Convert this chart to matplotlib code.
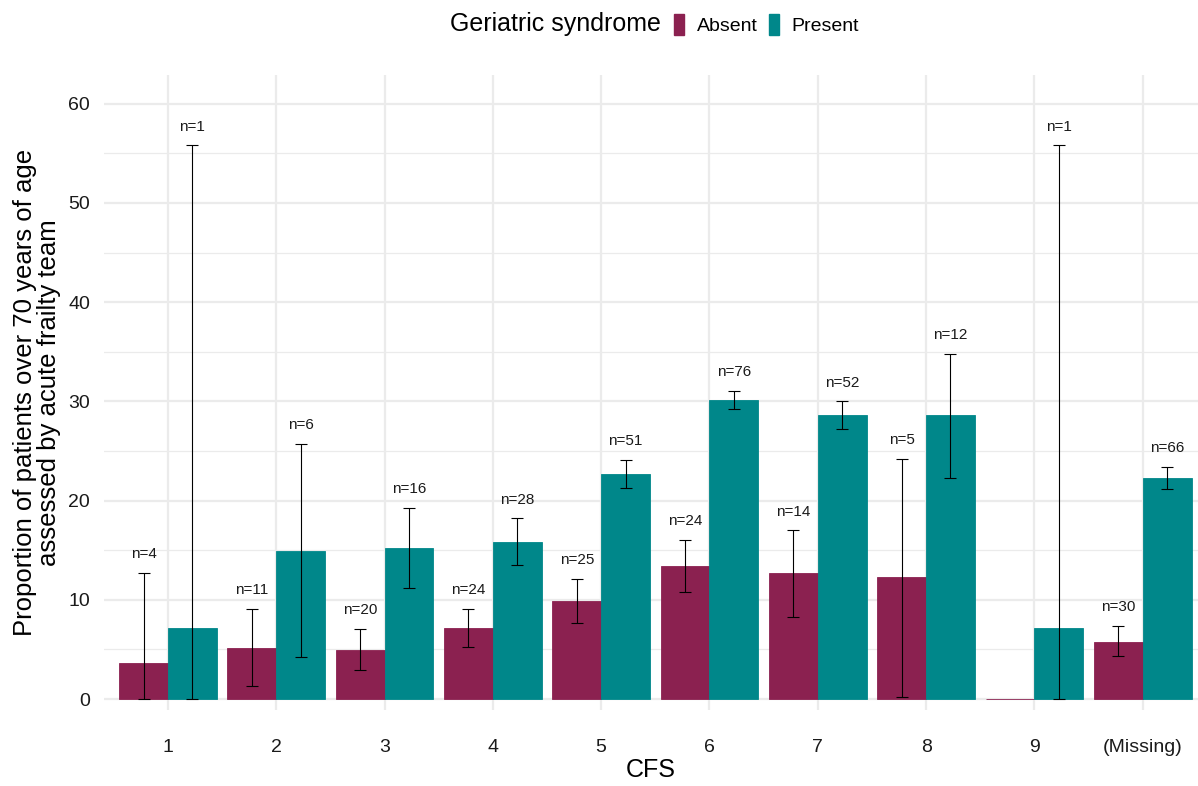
import numpy as np
import matplotlib
matplotlib.use('Agg')
import matplotlib.pyplot as plt
from matplotlib.patches import Patch

plt.rcParams['font.family'] = ['Liberation Sans', 'DejaVu Sans']

# Data
categories = ['1', '2', '3', '4', '5', '6', '7', '8', '9', '(Missing)']
absent = [3.6, 5.1, 4.9, 7.2, 9.9, 13.4, 12.7, 12.3, 0.0, 5.8]
absent_lo = [0.0, 1.3, 2.9, 5.2, 7.7, 10.8, 8.3, 0.2, np.nan, 4.3]
absent_hi = [12.7, 9.1, 7.1, 9.1, 12.1, 16.0, 17.0, 24.2, np.nan, 7.4]
absent_n = ['n=4', 'n=11', 'n=20', 'n=24', 'n=25', 'n=24', 'n=14', 'n=5', None, 'n=30']

present = [7.2, 14.9, 15.2, 15.8, 22.7, 30.1, 28.6, 28.6, 7.2, 22.3]
present_lo = [0.0, 4.2, 11.2, 13.5, 21.3, 29.2, 27.2, 22.3, 0.0, 21.2]
present_hi = [55.8, 25.7, 19.3, 18.2, 24.1, 31.1, 30.0, 34.8, 55.8, 23.4]
present_n = ['n=1', 'n=6', 'n=16', 'n=28', 'n=51', 'n=76', 'n=52', 'n=12', 'n=1', 'n=66']

col_absent = '#8B2150'
col_present = '#00878A'

fig = plt.figure(figsize=(11.98, 7.86), dpi=100)
ax = fig.add_axes([0.0868, 0.0967, 0.9132, 0.8079])

x = np.arange(len(categories))
w = 0.45

series = [
    (absent, absent_lo, absent_hi, absent_n, col_absent, -w / 2),
    (present, present_lo, present_hi, present_n, col_present, w / 2),
]
for vals, lo, hi, labels, col, off in series:
    vals = np.array(vals)
    lo = np.array(lo)
    hi = np.array(hi)
    ax.bar(x + off, vals, width=w, color=col, edgecolor=col, linewidth=0.6, zorder=2)
    yerr = np.vstack([vals - lo, hi - vals])
    ax.errorbar(x + off, vals, yerr=yerr, fmt='none', ecolor='black',
                elinewidth=0.8, capsize=4, capthick=0.8, zorder=3)
    for xi, h, lab in zip(x + off, hi, labels):
        if lab is not None:
            ax.text(xi, h + 1.9, lab, ha='center', va='center', fontsize=11, color='#1a1a1a')

ax.set_xlim(-0.59, 9.51)
ax.set_ylim(-1.1, 62.9)
ax.set_xticks(x)
ax.set_xticklabels(categories, fontsize=14, color='#1a1a1a')
ax.set_yticks(np.arange(0, 61, 10))
ax.set_yticks(np.arange(5, 60, 10), minor=True)
ax.tick_params(axis='both', length=0, labelsize=14, labelcolor='#1a1a1a')
ax.tick_params(axis='y', which='minor', length=0)
ax.tick_params(axis='x', pad=21)
ax.tick_params(axis='y', pad=10)
ax.grid(True, which='major', color='#ebebeb', linewidth=1.6, zorder=0)
ax.grid(True, which='minor', axis='y', color='#ebebeb', linewidth=0.9, zorder=0)
ax.set_axisbelow(True)
for s in ax.spines.values():
    s.set_visible(False)

ax.set_xlabel('CFS', fontsize=18, labelpad=1)
ax.set_ylabel('Proportion of patients over 70 years of age\nassessed by acute frailty team',
              fontsize=18.5, labelpad=5, linespacing=1.0)

fig.text(0.552, 0.969, 'Geriatric syndrome', fontsize=18, ha='right', va='center')
handles = [Patch(color=col_absent, label='Absent'), Patch(color=col_present, label='Present')]
fig.legend(handles=handles, loc='center left', bbox_to_anchor=(0.563, 0.969), ncol=2,
           frameon=False, fontsize=14, handlelength=0.5, handleheight=1.3,
           handletextpad=0.65, columnspacing=0.6, borderaxespad=0, borderpad=0)

fig.savefig('out.png', dpi=100)
